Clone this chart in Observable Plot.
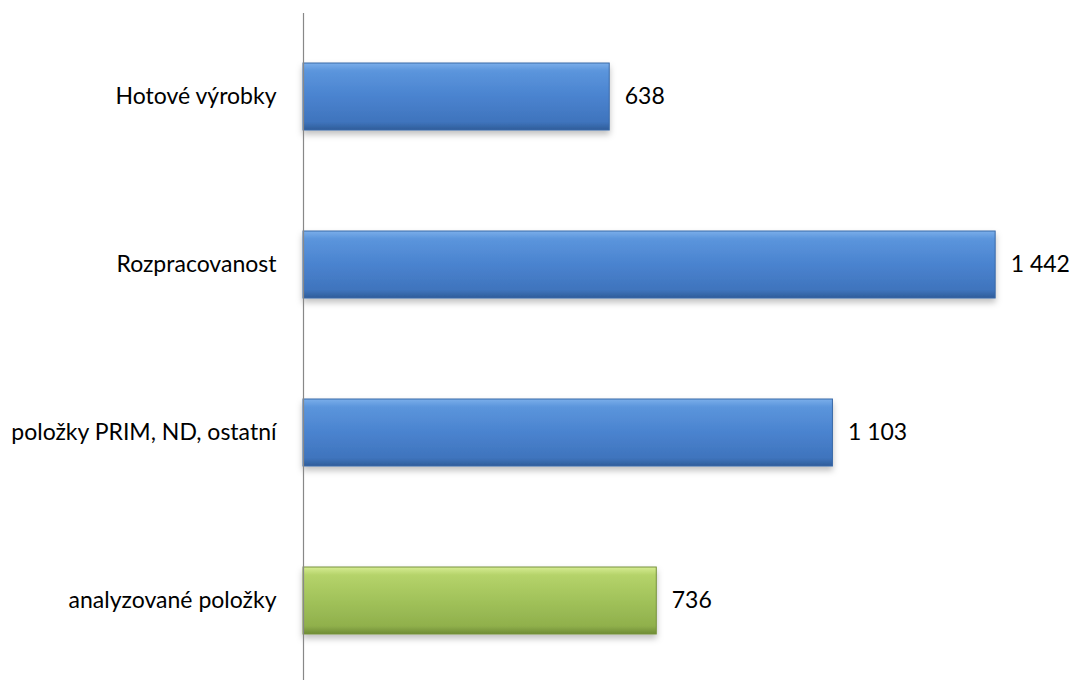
<!DOCTYPE html>
<html>
<head>
<meta charset="utf-8">
<script src="https://cdn.jsdelivr.net/npm/d3@7"></script>
<script src="https://cdn.jsdelivr.net/npm/@observablehq/plot@0.6"></script>
<style>
  html, body { margin: 0; padding: 0; background: #fff; }
  #chart svg { display: block; }
</style>
</head>
<body>
<div id="chart"></div>
<script>
const categories = ["Hotové výrobky", "Rozpracovanost", "položky PRIM, ND, ostatní", "analyzované položky"];
const values = [638, 1442, 1103, 736];
const groups = ["blue", "blue", "blue", "green"];

const data = categories.map((c, i) => ({category: c, value: values[i], group: groups[i]}));
const fmt = v => d3.format(",")(v).replace(/,/g, " ");

const chart = Plot.plot({
  width: 1071,
  height: 680,
  marginLeft: 303,
  marginRight: 0,
  marginTop: 13,
  marginBottom: -5,
  style: {fontFamily: "Lato, sans-serif", fontSize: "23px", color: "#000", background: "#fff"},
  x: {domain: [0, 1600], axis: null},
  y: {domain: categories, paddingInner: 0.6, paddingOuter: 0.3, label: null, axis: null},
  marks: [
    Plot.barX(data.filter(d => d.group === "blue"), {x: "value", y: "category", fill: "url(#gradBlue)", stroke: "#3a6aa8", strokeWidth: 1}),
    Plot.barX(data.filter(d => d.group === "green"), {x: "value", y: "category", fill: "url(#gradGreen)", stroke: "#76923c", strokeWidth: 1}),
    Plot.text(data, {x: "value", y: "category", text: d => fmt(d.value), dx: 15, textAnchor: "start", fill: "#000", fontSize: 23}),
    Plot.ruleX([0], {stroke: "#888", strokeWidth: 1.2}),
    Plot.axisY({tickSize: 0, tickPadding: 27, fontSize: 23, label: null, fill: "#000"})
  ]
});

const ns = "http://www.w3.org/2000/svg";
const defs = document.createElementNS(ns, "defs");
defs.innerHTML = `
  <linearGradient id="gradBlue" x1="0" y1="0" x2="0" y2="1">
    <stop offset="0" stop-color="#7aaeea"/>
    <stop offset="0.12" stop-color="#5b95dc"/>
    <stop offset="0.5" stop-color="#4a83cf"/>
    <stop offset="0.88" stop-color="#3f74bd"/>
    <stop offset="1" stop-color="#2f5d99"/>
  </linearGradient>
  <linearGradient id="gradGreen" x1="0" y1="0" x2="0" y2="1">
    <stop offset="0" stop-color="#d6ec92"/>
    <stop offset="0.12" stop-color="#b5d36a"/>
    <stop offset="0.5" stop-color="#a1c25a"/>
    <stop offset="0.88" stop-color="#90b04c"/>
    <stop offset="1" stop-color="#6f8c35"/>
  </linearGradient>
  <filter id="shadow" x="-5%" y="-10%" width="110%" height="140%">
    <feDropShadow dx="0" dy="4" stdDeviation="3" flood-color="#000" flood-opacity="0.25"/>
  </filter>`;
chart.insertBefore(defs, chart.firstChild);
chart.querySelectorAll("g[aria-label='bar']").forEach(g => g.setAttribute("filter", "url(#shadow)"));
document.getElementById("chart").appendChild(chart);
</script>
</body>
</html>
